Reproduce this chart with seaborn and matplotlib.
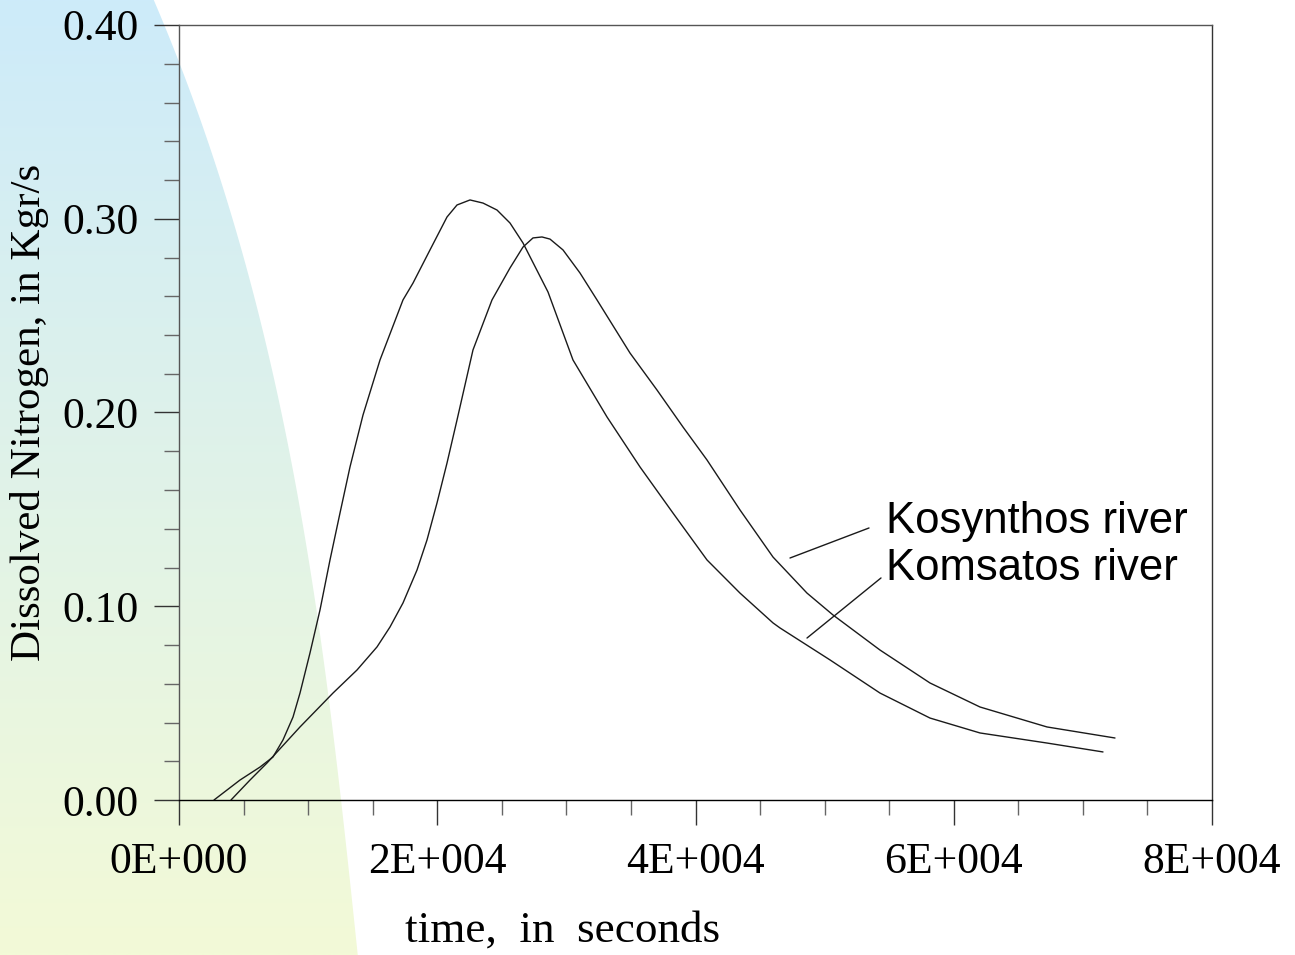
import numpy as np
import pandas as pd
import matplotlib
matplotlib.use("Agg")
import matplotlib.pyplot as plt
from matplotlib.patches import Polygon
from matplotlib.ticker import MultipleLocator, FixedLocator, FixedFormatter
import seaborn as sns

# ---------------- data ----------------
komsatos_time = [2711, 4724, 6273, 7280, 8054, 8829, 9371, 10145, 10920, 11694,
                 12468, 13243, 14250, 15566, 17347, 18122, 19438, 20755, 21529,
                 22536, 23543, 24627, 25634, 26641, 28577, 30513, 33146, 35701,
                 38257, 40890, 43446, 46002, 46544, 50416, 54288, 58160, 62033,
                 67222, 71558]
komsatos_value = [0.0, 0.0103, 0.0170, 0.0222, 0.0310, 0.0428, 0.0552, 0.0759,
                  0.0981, 0.1239, 0.1481, 0.1719, 0.1987, 0.2271, 0.2581, 0.2668,
                  0.2839, 0.3009, 0.3071, 0.3097, 0.3081, 0.3045, 0.2978, 0.2875,
                  0.2622, 0.2271, 0.1977, 0.1719, 0.1481, 0.1239, 0.1068, 0.0914,
                  0.0888, 0.0723, 0.0552, 0.0423, 0.0346, 0.0294, 0.0248]

kosynthos_time = [4027, 5499, 6815, 9371, 11926, 13785, 15334, 16341, 17347,
                  18432, 19206, 19981, 20755, 21529, 22768, 24240, 25634, 26641,
                  27415, 28112, 28732, 29739, 31055, 32372, 34927, 37019, 39032,
                  40890, 43446, 46002, 48634, 50648, 54288, 58160, 62033, 67222,
                  72487]
kosynthos_value = [0.0, 0.0103, 0.0191, 0.0377, 0.0552, 0.0671, 0.0790, 0.0893,
                   0.1017, 0.1187, 0.1342, 0.1533, 0.1739, 0.1961, 0.2323, 0.2581,
                   0.2746, 0.2854, 0.2901, 0.2906, 0.2895, 0.2839, 0.2720, 0.2581,
                   0.2307, 0.2116, 0.1925, 0.1755, 0.1497, 0.1254, 0.1068, 0.0955,
                   0.0774, 0.0604, 0.0480, 0.0377, 0.0320]

series_names = ["Kosynthos river", "Komsatos river"]
x_tick_values = [0, 20000, 40000, 60000, 80000]
x_tick_labels = ["0E+000", "2E+004", "4E+004", "6E+004", "8E+004"]
y_tick_values = [0.00, 0.10, 0.20, 0.30, 0.40]
y_tick_labels = ["0.00", "0.10", "0.20", "0.30", "0.40"]

df = pd.concat([
    pd.DataFrame({"time": kosynthos_time, "value": kosynthos_value, "river": series_names[0]}),
    pd.DataFrame({"time": komsatos_time, "value": komsatos_value, "river": series_names[1]}),
], ignore_index=True)

# ---------------- figure ----------------
sns.set_style("white")
plt.rcParams["font.family"] = ["Liberation Serif", "DejaVu Serif"]
plt.rcParams["text.color"] = "black"
plt.rcParams["axes.labelcolor"] = "black"
plt.rcParams["xtick.color"] = "black"
plt.rcParams["ytick.color"] = "black"

W, H = 1295, 955
fig = plt.figure(figsize=(W / 100, H / 100), dpi=100, facecolor="white")

# decorative gradient shape on the left
ax_bg = fig.add_axes([0, 0, 1, 1], zorder=0)
ax_bg.set_xlim(0, W)
ax_bg.set_ylim(H, 0)
ax_bg.axis("off")
top_c = np.array([205, 235, 250]) / 255.0
bot_c = np.array([243, 250, 215]) / 255.0
t = np.linspace(0, 1, 256)[:, None]
grad = (top_c[None, None, :] * (1 - t[..., None]) + bot_c[None, None, :] * t[..., None])
grad = np.repeat(grad, 2, axis=1)
img = ax_bg.imshow(grad, extent=[0, W, H, 0], aspect="auto", interpolation="bilinear")
ey = np.array([0, 63, 150, 297, 450, 600, 800, 955], dtype=float)
ex = np.array([153, 180, 212, 253, 288, 317, 340, 358], dtype=float)
coef = np.polyfit(ey, ex, 3)
yy = np.linspace(0, H, 120)
xx = np.polyval(coef, yy)
edge = [(0, 0)] + list(zip(xx, yy)) + [(0, H)]
poly = Polygon(edge, closed=True, transform=ax_bg.transData, facecolor="none", edgecolor="none")
ax_bg.add_patch(poly)
img.set_clip_path(poly)

# main axes
l, r = 179 / W, 1212 / W
b, tp = 1 - 800 / H, 1 - 25 / H
ax = fig.add_axes([l, b, r - l, tp - b], zorder=1)
ax.set_facecolor("none")

sns.lineplot(data=df, x="time", y="value", hue="river", palette=["#1a1a1a", "#1a1a1a"],
             estimator=None, sort=False, legend=False, linewidth=1.0, ax=ax)

ax.set_xlim(0, 80000)
ax.set_ylim(0, 0.40)
ax.xaxis.set_major_locator(FixedLocator(x_tick_values))
ax.xaxis.set_major_formatter(FixedFormatter(x_tick_labels))
ax.xaxis.set_minor_locator(MultipleLocator(5000))
ax.yaxis.set_major_locator(FixedLocator(y_tick_values))
ax.yaxis.set_major_formatter(FixedFormatter(y_tick_labels))
ax.yaxis.set_minor_locator(MultipleLocator(0.02))

fs = 31.5
ax.tick_params(which="both", bottom=True, left=True, top=False, right=False)
ax.tick_params(which="major", direction="out", length=18, width=1.0, color="#333333",
               labelsize=fs, labelcolor="black")
ax.tick_params(which="minor", direction="out", length=10.8, width=1.0, color="#666666")
ax.tick_params(axis="y", which="major", pad=11)
ax.tick_params(axis="x", which="major", pad=12)

for side in ["left", "top"]:
    ax.spines[side].set_color("#555555")
ax.spines["right"].set_color("#333333")
ax.spines["bottom"].set_color("black")
for s in ax.spines.values():
    s.set_linewidth(1.0)
    s.set_visible(True)

ax.set_ylabel("Dissolved Nitrogen, in Kgr/s", fontsize=31, labelpad=10)
ax.set_xlabel("time,  in  seconds", fontsize=32.5)
ax.xaxis.label.set_va("baseline")
ax.xaxis.set_label_coords((562.5 - 179) / 1033, -(942 - 800) / 775)

# annotations with leader lines
ann_font = ["Liberation Sans", "DejaVu Sans"]
ax.text(54750, 0.1378, series_names[0], fontsize=31.5, family=ann_font, va="baseline", ha="left")
ax.text(54750, 0.1135, series_names[1], fontsize=31.5, family=ann_font, va="baseline", ha="left")
ax.annotate("", xy=(47318, 0.1249), xytext=(53437, 0.1404),
            arrowprops=dict(arrowstyle="-", color="#1a1a1a", lw=1.0, shrinkA=0, shrinkB=0))
ax.annotate("", xy=(48635, 0.0836), xytext=(54366, 0.1146),
            arrowprops=dict(arrowstyle="-", color="#1a1a1a", lw=1.0, shrinkA=0, shrinkB=0))

fig.savefig("out.png", dpi=100, facecolor="white")
